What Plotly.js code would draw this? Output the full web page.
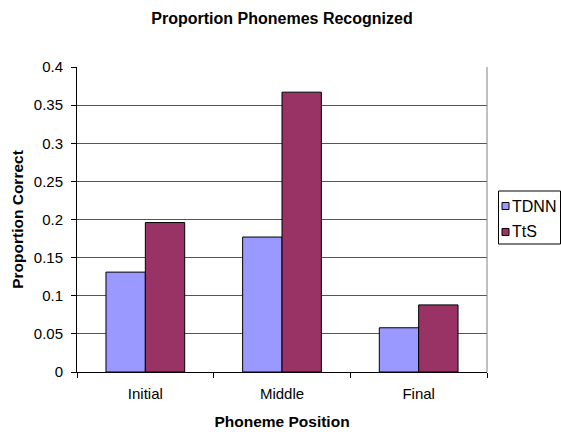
<!DOCTYPE html>
<html>
<head>
<meta charset="utf-8">
<script src="https://cdn.plot.ly/plotly-3.0.1.min.js"></script>
<style>html,body{margin:0;padding:0;background:#fff;}#chart{width:561px;height:432px;}</style>
</head>
<body>
<div id="chart"></div>
<script>
const categories = ["Initial", "Middle", "Final"];
const seriesNames = ["TDNN", "TtS"];
const seriesColors = ["#9999FF", "#993366"];
const tdnnValues = [0.131, 0.177, 0.058];
const ttsValues = [0.196, 0.367, 0.088];
const yTickVals = [0, 0.05, 0.1, 0.15, 0.2, 0.25, 0.3, 0.35, 0.4];
const yTickText = ["0", "0.05", "0.1", "0.15", "0.2", "0.25", "0.3", "0.35", "0.4"];

const font = "Arial, 'Liberation Sans', sans-serif";
const seriesValues = [tdnnValues, ttsValues];
const data = seriesNames.map((n, i) => ({
  type: "bar", name: n, x: categories, y: seriesValues[i],
  marker: {color: seriesColors[i], line: {color: "#000", width: 1}},
  showlegend: false
}));

// manual legend (container coordinates)
const W = 561, H = 432;
const legLeft = 498.5, legTop = 191, legRight = 560.5, legBottom = 244;
const rowY = [206, 232];
const shapes = [
  {type: "line", xref: "paper", yref: "paper", x0: 1, x1: 1, y0: 0, y1: 1,
   line: {color: "#808080", width: 1}},
  {type: "rect", xref: "paper", yref: "paper", layer: "above",
   x0: (legLeft - 77) / 410, x1: (legRight - 77) / 410,
   y0: (372 - legBottom) / 305, y1: (372 - legTop) / 305,
   line: {color: "#000", width: 1}, fillcolor: "rgba(0,0,0,0)"}
];
const annotations = [];
seriesNames.forEach((n, i) => {
  const cy = rowY[i];
  shapes.push({type: "rect", xref: "paper", yref: "paper", layer: "above",
    x0: (502 - 77) / 410, x1: (509 - 77) / 410,
    y0: (372 - (cy + 3.5)) / 305, y1: (372 - (cy - 3.5)) / 305,
    line: {color: "#000", width: 1}, fillcolor: seriesColors[i]});
  annotations.push({xref: "paper", yref: "paper", x: (509.5 - 77) / 410, y: (372 - cy) / 305,
    xanchor: "left", yanchor: "middle", text: n, showarrow: false,
    font: {family: font, size: 16, color: "#000"}});
});

const layout = {
  width: W, height: H,
  margin: {l: 77, r: 74, t: 67, b: 60},
  paper_bgcolor: "#fff", plot_bgcolor: "#fff",
  font: {family: font, size: 15, color: "#000"},
  title: {text: "<b>Proportion Phonemes Recognized</b>", font: {family: font, size: 16, color: "#000"},
          x: 0.5, xref: "paper", y: 1 - 18 / H, yref: "container", yanchor: "middle"},
  barmode: "group", bargap: 0.424, bargroupgap: 0,
  showlegend: false,
  xaxis: {type: "category", showline: true, linecolor: "#000", linewidth: 1,
          ticks: "outside", tickson: "boundaries", ticklen: 5, tickcolor: "#000",
          showgrid: false, zeroline: false, automargin: false,
          tickfont: {family: font, size: 15, color: "#000"}, ticklabelstandoff: 8,
          title: {text: "<b>Phoneme Position</b>", font: {family: font, size: 15.5, color: "#000"}, standoff: 15}},
  yaxis: {range: [0, 0.4], tickvals: yTickVals, ticktext: yTickText,
          showline: true, linecolor: "#000", linewidth: 1,
          ticks: "outside", ticklen: 5, tickcolor: "#000", automargin: false,
          tickfont: {family: font, size: 15, color: "#000"}, ticklabelstandoff: 5,
          showgrid: true, gridcolor: "#555555", gridwidth: 1, zeroline: false,
          title: {text: "<b>Proportion Correct</b>", font: {family: font, size: 15.5, color: "#000"}, standoff: 6}},
  shapes: shapes,
  annotations: annotations
};
Plotly.newPlot("chart", data, layout, {displayModeBar: false, staticPlot: true});
</script>
</body>
</html>
